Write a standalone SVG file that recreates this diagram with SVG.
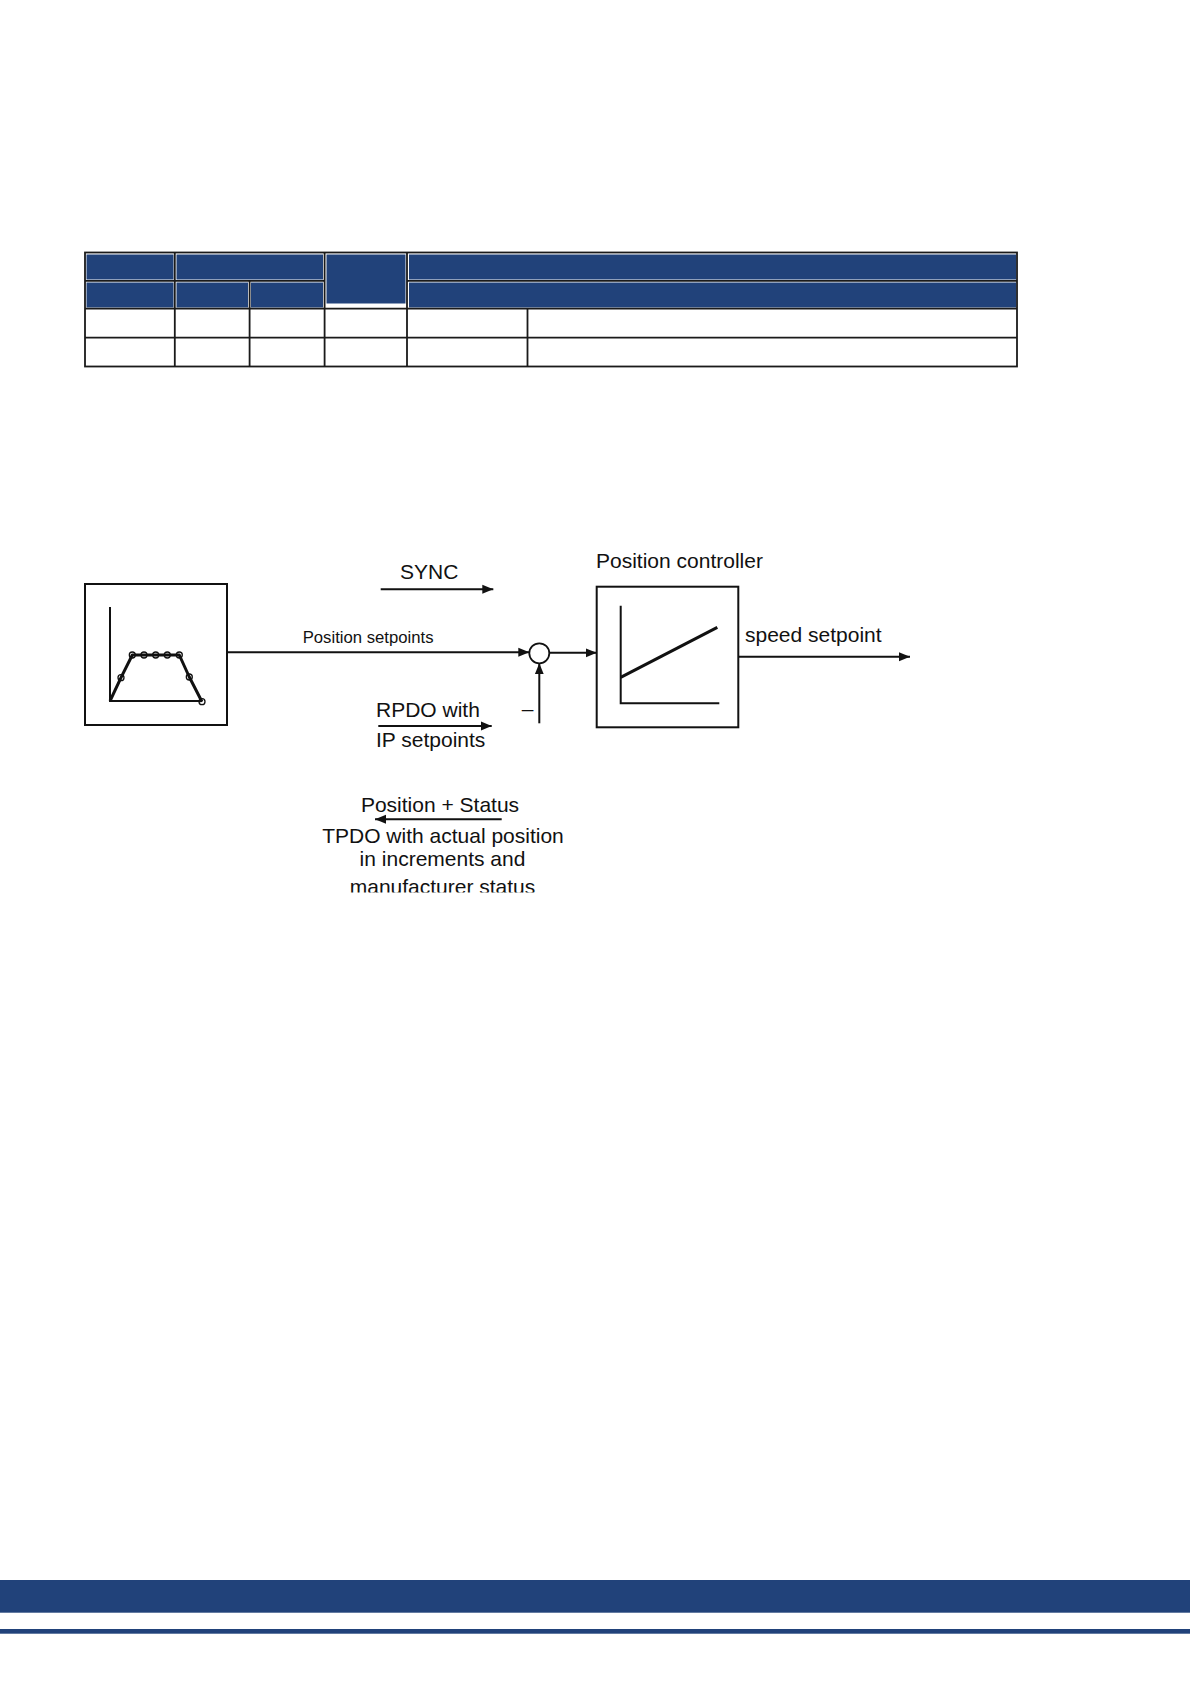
<svg xmlns="http://www.w3.org/2000/svg" width="1190" height="1683" viewBox="0 0 1190 1683">
<style>
.blue{fill:#21427a}
.grid{stroke:#1a1a1a;stroke-width:1.8;fill:none}
.box{fill:#fff;stroke:#111;stroke-width:2}
.ln{stroke:#111;stroke-width:2;fill:none}
.thick{stroke:#111;stroke-width:3;fill:none;stroke-linejoin:round}
.dot{fill:none;stroke:#111;stroke-width:1.3}
.t{font-family:"Liberation Sans",Arial,sans-serif;font-size:21px;fill:#111}
.ts{font-family:"Liberation Sans",Arial,sans-serif;font-size:16.7px;fill:#111}
</style>
<defs>
<marker id="ah" markerUnits="userSpaceOnUse" markerWidth="12" markerHeight="12" viewBox="0 0 12 12" refX="11" refY="6" orient="auto">
<path d="M0,1.5 L11,6 L0,10.5 Z" fill="#111"/>
</marker>
<clipPath id="cut"><rect x="0" y="0" width="1190" height="892.5"/></clipPath>
</defs>
<rect width="1190" height="1683" fill="#fff"/>

<g id="table">
<rect x="86.5" y="254.5" width="87" height="25" class="blue"/>
<rect x="176.5" y="254.5" width="146.5" height="25" class="blue"/>
<rect x="326.5" y="254.5" width="79" height="49" class="blue"/>
<rect x="409" y="254.5" width="607" height="25" class="blue"/>
<rect x="86.5" y="282.5" width="87" height="25" class="blue"/>
<rect x="176.5" y="282.5" width="71.5" height="25" class="blue"/>
<rect x="251" y="282.5" width="72" height="25" class="blue"/>
<rect x="409" y="282.5" width="607" height="25" class="blue"/>
<rect x="85" y="252.5" width="932" height="114" class="grid"/>
<path class="grid" d="M85,280.8 H324.5 M407,280.8 H1017 M85,308.6 H1017 M85,337.6 H1017 M174.8,252.5 V366.5 M249.6,280.8 V366.5 M324.6,252.5 V366.5 M407,252.5 V366.5 M527.5,308.6 V366.5"/>
</g>

<g id="trajectory">
<rect x="85" y="584" width="142" height="141" class="box"/>
<path class="ln" d="M110,607 V701 H202"/>
<path class="thick" d="M110,701 L121,677.7 L132.3,655 L179.3,655 L189.3,677 L202,701.7"/>
<circle class="dot" cx="121" cy="677.7" r="3"/>
<circle class="dot" cx="132.3" cy="655" r="3"/>
<circle class="dot" cx="144" cy="655" r="3"/>
<circle class="dot" cx="155.7" cy="655" r="3"/>
<circle class="dot" cx="167.3" cy="655" r="3"/>
<circle class="dot" cx="179.3" cy="655" r="3"/>
<circle class="dot" cx="189.3" cy="677" r="3"/>
<circle class="dot" cx="202" cy="701.7" r="3"/>
</g>

<g id="sum">
<circle cx="539.3" cy="653.3" r="10" fill="#fff" stroke="#111" stroke-width="1.8"/>
<text class="t" x="527.5" y="716" text-anchor="middle">–</text>
</g>

<g id="controller">
<rect x="596.7" y="586.7" width="141.6" height="140.6" class="box"/>
<path class="ln" d="M620.7,605.7 V703.3 H719.3"/>
<path class="thick" d="M620.7,677.3 L717.3,627.3"/>
<text class="t" x="596" y="568.3">Position controller</text>
</g>

<g id="connectors">
<path class="ln" d="M227,652.3 H529.3" marker-end="url(#ah)"/>
<path class="ln" d="M549.3,652.8 H596.7" marker-end="url(#ah)"/>
<path class="ln" d="M539.3,723.3 V663.3" marker-end="url(#ah)"/>
<path class="ln" d="M738.3,656.7 H910" marker-end="url(#ah)"/>
<path class="ln" d="M380.7,589.3 H493.3" marker-end="url(#ah)"/>
<path class="ln" d="M378.3,726 H491.7" marker-end="url(#ah)"/>
<path class="ln" d="M501.7,819.3 H375" marker-end="url(#ah)"/>
</g>

<g id="labels">
<text class="ts" x="302.7" y="643.3">Position setpoints</text>
<text class="t" x="400" y="579.3">SYNC</text>
<text class="t" x="376" y="716.7">RPDO with</text>
<text class="t" x="376" y="746.7">IP setpoints</text>
<text class="t" x="745" y="641.7">speed setpoint</text>
<text class="t" x="440" y="812.3" text-anchor="middle">Position + Status</text>
<g clip-path="url(#cut)">
<text class="t" x="443" y="843.3" text-anchor="middle">TPDO with actual position</text>
<text class="t" x="442.5" y="866" text-anchor="middle">in increments and</text>
<text class="t" x="442.5" y="893.5" text-anchor="middle">manufacturer status</text>
</g>
</g>

<g id="footer">
<rect x="0" y="1580" width="1190" height="32.7" fill="#21427a"/>
<rect x="0" y="1629" width="1190" height="4.7" fill="#21427a"/>
</g>
</svg>
